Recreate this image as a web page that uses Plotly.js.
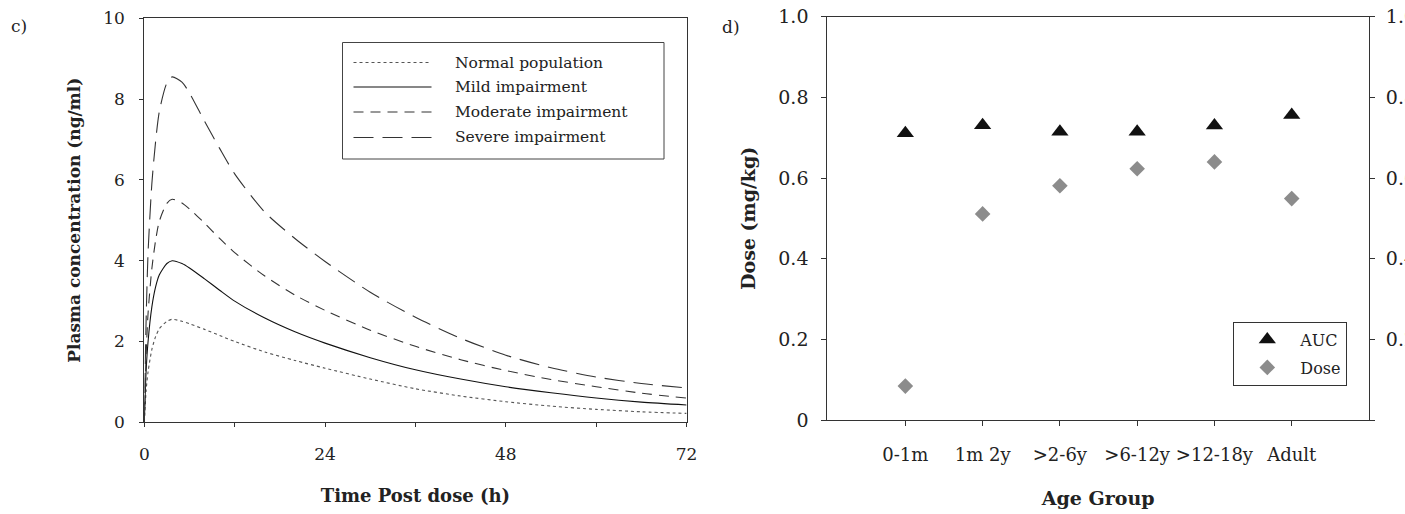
<!DOCTYPE html>
<html><head><meta charset="utf-8">
<script src="https://cdn.plot.ly/plotly-3.0.1.min.js"></script>
<style>html,body{margin:0;padding:0;background:#fff;}#chart{width:1405px;height:514px;}</style>
</head><body><div id="chart"></div>
<script>
// ---- data: panel c) ----
const timeHours = [0,0.25,0.5,1,1.5,2,3,3.7,5,6,8,10,12,16,20,24,30,36,42,48,54,60,66,72];
const normalPopulation   = [0,0.8,1.25,1.8,2.12,2.32,2.5,2.55,2.5,2.44,2.3,2.15,2.0,1.74,1.53,1.34,1.07,0.83,0.65,0.51,0.4,0.32,0.26,0.22];
const mildImpairment     = [0,1.3,2.0,2.85,3.35,3.65,3.93,4.0,3.93,3.82,3.55,3.27,3.0,2.58,2.24,1.96,1.6,1.3,1.07,0.88,0.73,0.6,0.5,0.43];
const moderateImpairment = [0,1.7,2.7,3.8,4.5,4.98,5.42,5.52,5.43,5.28,4.93,4.55,4.2,3.62,3.15,2.77,2.28,1.88,1.55,1.28,1.06,0.88,0.72,0.6];
const severeImpairment   = [0,2.6,4.2,5.9,6.95,7.7,8.4,8.55,8.42,8.15,7.45,6.78,6.15,5.2,4.55,3.98,3.22,2.6,2.08,1.66,1.35,1.12,0.96,0.85];
const seriesNames = ['Normal population','Mild impairment','Moderate impairment','Severe impairment'];
const timeTicks = [0,12,24,36,48,60,72];
const timeTickLabels = ['0','','24','','48','','72'];
const concTicks = [0,2,4,6,8,10];
const concTickLabels = ['0','2','4','6','8','10'];

// ---- data: panel d) ----
const ageGroups = ['0-1m','1m 2y','>2-6y','>6-12y','>12-18y','Adult'];
const aucValues  = [0.711,0.731,0.715,0.715,0.730,0.756];
const doseValues = [0.084,0.511,0.581,0.623,0.640,0.549];
const doseTicks = [0,0.2,0.4,0.6,0.8,1.0];
const doseTickLabels = ['0','0.2','0.4','0.6','0.8','1.0'];
const aucTickLabels  = ['','0.2','0.4','0.6','0.8','1.0'];
const markerNames = ['AUC','Dose'];

// ---- styling ----
const W = 1405, H = 514;
const fx = p => p / W;
const fy = p => 1 - p / H;
const FONT = 'DejaVu Serif';
const lineStyles = [
  {color:'#555', dash:'3px,3px', width:1.1},
  {color:'#111', dash:'solid', width:1.1},
  {color:'#333', dash:'10px,7px', width:1.1},
  {color:'#333', dash:'20px,9px', width:1.1}
];
const seriesValues = [normalPopulation, mildImpairment, moderateImpairment, severeImpairment];

const traces = seriesValues.map((vals, i) => ({
  type:'scatter', mode:'lines', x: timeHours, y: vals, name: seriesNames[i],
  xaxis:'x', yaxis:'y', showlegend:false,
  line:{color:lineStyles[i].color, dash:lineStyles[i].dash, width:lineStyles[i].width, shape:'spline', smoothing:0.7},
  hoverinfo:'x+y'
}));
traces.push({
  type:'scatter', mode:'markers', x: ageGroups, y: aucValues, name: markerNames[0],
  xaxis:'x2', yaxis:'y3', legend:'legend', legendgroup:'auc',
  marker:{symbol:'triangle-up', size:15, color:'#111'}
});
traces.push({
  type:'scatter', mode:'markers', x: ageGroups, y: doseValues, name: markerNames[1],
  xaxis:'x2', yaxis:'y2', legend:'legend', legendgroup:'dose',
  marker:{symbol:'diamond', size:12, color:'#8c8c8c'}
});

const axisCommon = {
  showgrid:false, zeroline:false, showline:true, linecolor:'#333', linewidth:1,
  ticks:'outside', tickcolor:'#333', tickwidth:1,
  tickfont:{family:FONT, size:17, color:'#222'}
};

// Left legend drawn in the plot (box, sample lines, labels)
const legRows = [62.5, 87, 112, 137.5];
const shapes = [{
  type:'rect', xref:'paper', yref:'paper',
  x0: fx(342.5), x1: fx(664), y0: fy(42.5), y1: fy(159),
  line:{color:'#444', width:1}, fillcolor:'rgba(0,0,0,0)'
}];
const annotations = [];
seriesNames.forEach((nm, i) => {
  shapes.push({type:'line', xref:'paper', yref:'paper',
    x0: fx(353.5), x1: fx(431.5), y0: fy(legRows[i]), y1: fy(legRows[i]),
    line:{color:lineStyles[i].color, dash:lineStyles[i].dash, width:lineStyles[i].width}});
  annotations.push({xref:'paper', yref:'paper', x: fx(453), y: fy(legRows[i]),
    xanchor:'left', yanchor:'middle', showarrow:false, text: nm,
    font:{family:FONT, size:15.5, color:'#222'}});
});
annotations.push({xref:'paper', yref:'paper', x: fx(19), y: fy(26), xanchor:'center', yanchor:'middle',
  showarrow:false, text:'c)', font:{family:FONT, size:17, color:'#222'}});
annotations.push({xref:'paper', yref:'paper', x: fx(731), y: fy(27), xanchor:'center', yanchor:'middle',
  showarrow:false, text:'d)', font:{family:FONT, size:17, color:'#222'}});

const layout = {
  width: W, height: H,
  margin:{l:0, r:0, t:0, b:0},
  paper_bgcolor:'#fff', plot_bgcolor:'#fff',
  showlegend:true,
  xaxis: Object.assign({}, axisCommon, {
    domain:[fx(144.3), fx(686.6)], range:[0,72], anchor:'y', mirror:true,
    tickmode:'array', tickvals: timeTicks, ticktext: timeTickLabels, ticklen:4,
    ticklabelstandoff: 12,
    title:{text:'<b>Time Post dose (h)</b>', font:{family:FONT, size:18, color:'#222'}, standoff:26}
  }),
  yaxis: Object.assign({}, axisCommon, {
    domain:[fy(422.3), fy(18.3)], range:[0,10], anchor:'x', mirror:true,
    tickmode:'array', tickvals: concTicks, ticktext: concTickLabels, ticklen:4,
    ticklabelstandoff: 11,
    title:{text:'<b>Plasma concentration (ng/ml)</b>', font:{family:FONT, size:17, color:'#222'}, standoff:18}
  }),
  xaxis2: Object.assign({}, axisCommon, {
    domain:[fx(827.3), fx(1369)], range:[-1.01,6], anchor:'y2', mirror:true, type:'category',
    ticklen:5, ticklabelstandoff: 13,
    tickfont:{family:FONT, size:18, color:'#222'},
    title:{text:'<b>Age Group</b>', font:{family:FONT, size:19, color:'#222'}, standoff:28}
  }),
  yaxis2: Object.assign({}, axisCommon, {
    domain:[fy(420), fy(16.7)], range:[0,1], anchor:'x2',
    tickmode:'array', tickvals: doseTicks, ticktext: doseTickLabels, ticklen:5,
    ticklabelstandoff: 9,
    tickfont:{family:FONT, size:19, color:'#222'},
    title:{text:'<b>Dose (mg/kg)</b>', font:{family:FONT, size:19, color:'#222'}, standoff:17}
  }),
  yaxis3: Object.assign({}, axisCommon, {
    overlaying:'y2', side:'right', anchor:'x2', range:[0,1],
    tickmode:'array', tickvals: doseTicks, ticktext: aucTickLabels, ticklen:5,
    ticklabelstandoff: 7,
    tickfont:{family:FONT, size:19, color:'#222'}
  }),
  legend:{
    x: fx(1233.3), y: fy(321.7), xanchor:'left', yanchor:'top',
    bordercolor:'#333', borderwidth:1, bgcolor:'#fff',
    font:{family:FONT, size:16, color:'#222'}, itemwidth:56, tracegroupgap:4
  },
  shapes: shapes,
  annotations: annotations
};

Plotly.newPlot('chart', traces, layout, {displayModeBar:false, staticPlot:true});
</script>
</body></html>
